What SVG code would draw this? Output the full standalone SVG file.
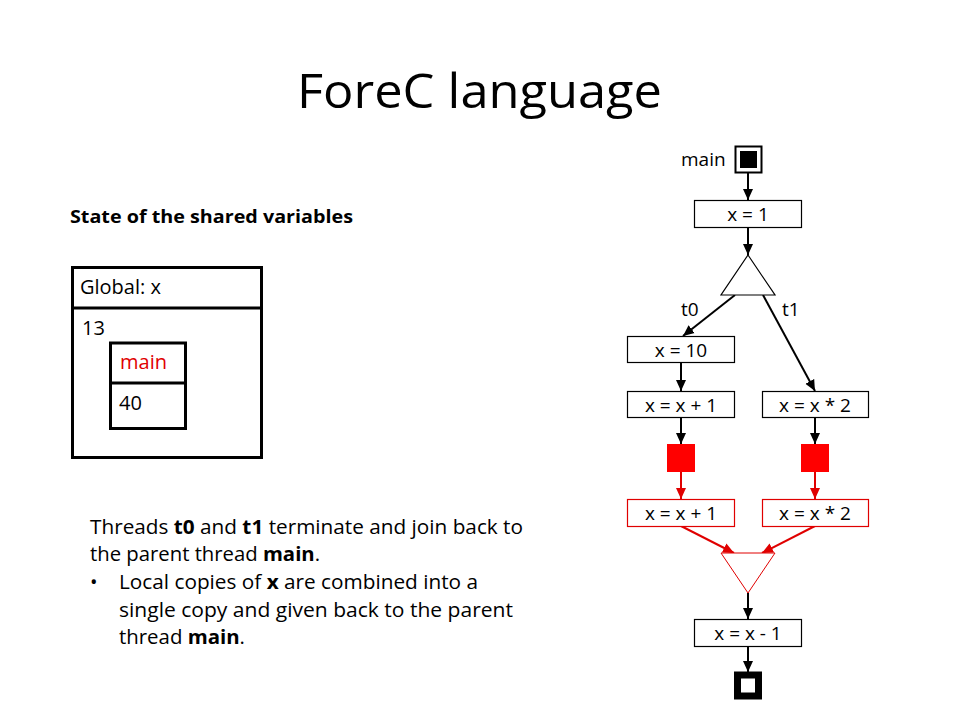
<svg xmlns="http://www.w3.org/2000/svg" width="960" height="720" viewBox="0 0 960 720">
<style>
text{font-family:"Open Sans","Liberation Sans",sans-serif;fill:#000}
.lbl{font-size:19px;text-anchor:middle}
.box{fill:#fff;stroke:#000;stroke-width:1.2}
.rbox{fill:#fff;stroke:#e00000;stroke-width:1.2}
.ln{stroke:#000;stroke-width:2;fill:none;marker-end:url(#ab)}
.rln{stroke:#e00000;stroke-width:2;fill:none;marker-end:url(#ar)}
.thick{fill:none;stroke:#000;stroke-width:3}
.body{font-size:20px}
</style>
<defs>
<marker id="ab" markerUnits="userSpaceOnUse" markerWidth="11" markerHeight="11" refX="11" refY="5" orient="auto" viewBox="0 0 11 10"><path d="M0,0 L11,5 L0,10 z" fill="#000"/></marker>
<marker id="ar" markerUnits="userSpaceOnUse" markerWidth="11" markerHeight="11" refX="11" refY="5" orient="auto" viewBox="0 0 11 10"><path d="M0,0 L11,5 L0,10 z" fill="#e00000"/></marker>
</defs>
<rect width="960" height="720" fill="#fff"/>
<text x="297" y="108" font-size="48" textLength="365" lengthAdjust="spacingAndGlyphs">ForeC language</text>

<g id="state-title"><text x="70" y="223" font-size="17" font-weight="bold" textLength="283" lengthAdjust="spacingAndGlyphs">State of the shared variables</text></g>

<g id="global-box">
<rect class="thick" x="72.5" y="267.5" width="189" height="190"/>
<line class="thick" x1="72.5" y1="308" x2="261.5" y2="308"/>
<text x="80" y="294" font-size="20">Global: x</text>
<text x="82" y="335" font-size="20">13</text>
</g>
<g id="main-box">
<rect class="thick" x="110.5" y="343" width="75" height="85.5"/>
<line class="thick" x1="110.5" y1="383" x2="185.5" y2="383"/>
<text x="120" y="369" font-size="20" style="fill:#e00000">main</text>
<text x="119" y="410" font-size="20">40</text>
</g>

<g id="explanation" class="body">
<text x="90" y="534" textLength="433" lengthAdjust="spacingAndGlyphs">Threads <tspan font-weight="bold">t0</tspan> and <tspan font-weight="bold">t1</tspan> terminate and join back to</text>
<text x="90" y="561" textLength="230" lengthAdjust="spacingAndGlyphs">the parent thread <tspan font-weight="bold">main</tspan>.</text>
<text x="90" y="589">•</text>
<text x="119" y="589" textLength="359" lengthAdjust="spacingAndGlyphs">Local copies of <tspan font-weight="bold">x</tspan> are combined into a</text>
<text x="119" y="617" textLength="394" lengthAdjust="spacingAndGlyphs">single copy and given back to the parent</text>
<text x="119" y="644" textLength="126" lengthAdjust="spacingAndGlyphs">thread <tspan font-weight="bold">main</tspan>.</text>
</g>

<g id="connectors">
<line class="ln" x1="748" y1="173" x2="748" y2="200"/>
<line class="ln" x1="748" y1="227" x2="748" y2="255"/>
<line class="ln" x1="735" y1="295" x2="683" y2="336"/>
<line class="ln" x1="763" y1="295" x2="815" y2="391"/>
<line class="ln" x1="681" y1="363" x2="681" y2="391"/>
<line class="ln" x1="681" y1="417" x2="681" y2="444"/>
<line class="ln" x1="815" y1="417" x2="815" y2="444"/>
<line class="rln" x1="681" y1="472" x2="681" y2="499"/>
<line class="rln" x1="815" y1="472" x2="815" y2="499"/>
<line class="rln" x1="681" y1="526" x2="734" y2="553"/>
<line class="rln" x1="815" y1="526" x2="762" y2="553"/>
<line class="ln" x1="748" y1="593" x2="748" y2="619"/>
<line class="ln" x1="748" y1="647" x2="748" y2="672"/>
</g>

<g id="start">
<text x="681" y="166" font-size="19">main</text>
<rect x="735.5" y="146.5" width="26" height="26" fill="#fff" stroke="#000" stroke-width="2"/>
<rect x="740" y="151" width="17" height="17" fill="#000"/>
</g>
<g id="n-x1"><rect class="box" x="694.5" y="200.5" width="107" height="27"/><text class="lbl" x="748" y="221">x = 1</text></g>
<g id="fork"><polygon points="748,255 775,295 721,295" fill="#fff" stroke="#000" stroke-width="1.2"/></g>
<g id="t0lbl"><text x="681" y="316" font-size="19">t0</text></g>
<g id="t1lbl"><text x="782" y="316" font-size="19">t1</text></g>
<g id="n-x10"><rect class="box" x="627.5" y="336.5" width="107" height="26"/><text class="lbl" x="681" y="357">x = 10</text></g>
<g id="n-xp1"><rect class="box" x="627.5" y="391.5" width="107" height="26"/><text class="lbl" x="681" y="412">x = x + 1</text></g>
<g id="n-xm2"><rect class="box" x="762.5" y="391.5" width="106" height="26"/><text class="lbl" x="815" y="412">x = x * 2</text></g>
<g id="r-sq0"><rect x="667" y="444" width="28" height="28" fill="#ff0000"/></g>
<g id="r-sq1"><rect x="801" y="444" width="28" height="28" fill="#ff0000"/></g>
<g id="r-xp1"><rect class="rbox" x="627.5" y="499.5" width="107" height="27"/><text class="lbl" x="681" y="520">x = x + 1</text></g>
<g id="r-xm2"><rect class="rbox" x="762.5" y="499.5" width="106" height="27"/><text class="lbl" x="815" y="520">x = x * 2</text></g>
<g id="join"><polygon points="721,553 775,553 748,593" fill="#fff" stroke="#e00000" stroke-width="1"/></g>
<g id="n-xm1"><rect class="box" x="694.5" y="619.5" width="107" height="27"/><text class="lbl" x="748" y="640">x = x - 1</text></g>
<g id="end"><rect x="737.5" y="675" width="21" height="21" fill="#fff" stroke="#000" stroke-width="7"/></g>
</svg>
